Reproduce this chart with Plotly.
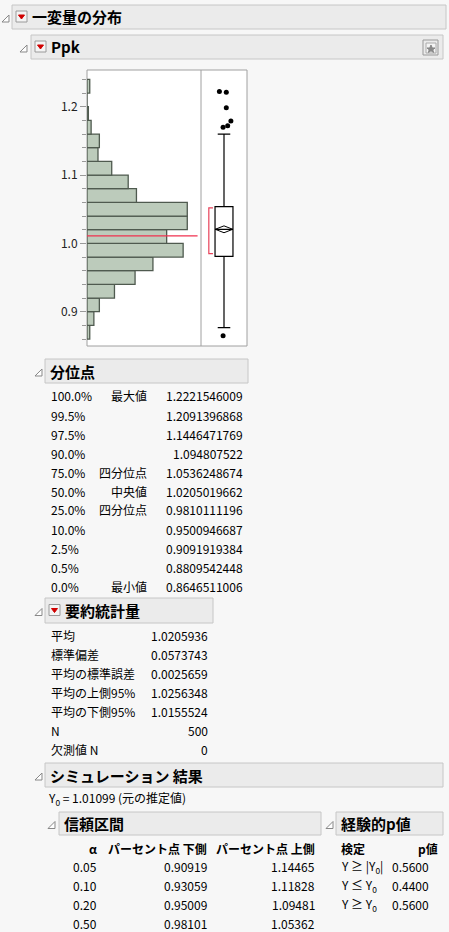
import plotly.graph_objects as go

W, H = 449, 932
FONT = "Noto Sans CJK JP"

# ---------------- data ----------------
bin_lo = [0.86, 0.88, 0.90, 0.92, 0.94, 0.96, 0.98, 1.00, 1.02, 1.04, 1.06, 1.08, 1.10, 1.12, 1.14, 1.16, 1.18, 1.20, 1.22]
counts = [2, 5, 9, 20, 35, 48, 70, 58, 73, 73, 36, 30, 18, 8, 9, 3, 1, 0, 2]
bin_w = 0.02
outliers = [1.2222, 1.2210, 1.1985, 1.1790, 1.1720, 1.1700, 0.8647]
outlier_x = [0.40, 0.55, 0.55, 0.65, 0.58, 0.48, 0.48]
q1, med, q3 = 0.9810111196, 1.0205019662, 1.0536248674
lo_fence, hi_fence = 0.8766, 1.1600
mean, mean_lo, mean_hi = 1.0205936, 1.0155524, 1.0256348
short_half = [0.985, 1.052]
y0 = 1.01099
yticks = [0.9, 1.0, 1.1, 1.2]

q_pct = ["100.0%", "99.5%", "97.5%", "90.0%", "75.0%", "50.0%", "25.0%", "10.0%", "2.5%", "0.5%", "0.0%"]
q_lab = ["最大値", "", "", "", "四分位点", "中央値", "四分位点", "", "", "", "最小値"]
q_val = ["1.2221546009", "1.2091396868", "1.1446471769", "1.094807522", "1.0536248674", "1.0205019662",
         "0.9810111196", "0.9500946687", "0.9091919384", "0.8809542448", "0.8646511006"]

s_lab = ["平均", "標準偏差", "平均の標準誤差", "平均の上側95%", "平均の下側95%", "N", "欠測値 N"]
s_val = ["1.0205936", "0.0573743", "0.0025659", "1.0256348", "1.0155524", "500", "0"]

ci_alpha = ["0.05", "0.10", "0.20", "0.50"]
ci_lo = ["0.90919", "0.93059", "0.95009", "0.98101"]
ci_hi = ["1.14465", "1.11828", "1.09481", "1.05362"]

p_test = ["Y ≥ |Y<sub>0</sub>|", "Y ≤ Y<sub>0</sub>", "Y ≥ Y<sub>0</sub>"]
p_val = ["0.5600", "0.4400", "0.5600"]

# ---------------- helpers ----------------
def X(px): return px / W
def Y(py): return 1 - py / H

shapes, ann = [], []

def text(px, py, s, size=12, anchor="left", bold=False, color="#000"):
    if bold: s = "<b>" + s + "</b>"
    ann.append(dict(x=X(px), y=Y(py), xref="paper", yref="paper", text=s, showarrow=False,
                    xanchor=anchor, yanchor="middle", font=dict(family=FONT, size=size, color=color)))

def rect(x0, y0_, x1, y1, fill="#ebebeb", line="#c6c6c6", w=1):
    shapes.append(dict(type="rect", xref="paper", yref="paper", x0=X(x0), x1=X(x1), y0=Y(y1), y1=Y(y0_),
                       fillcolor=fill, line=dict(color=line, width=w)))

def path(pts, fill, line):
    d = "M " + " L ".join(f"{X(a):.5f},{Y(b):.5f}" for a, b in pts) + " Z"
    shapes.append(dict(type="path", xref="paper", yref="paper", path=d, fillcolor=fill,
                       line=dict(color=line, width=1)))

def header(x0, x1, y0_, y1, label, tri_x, button=False):
    rect(x0, y0_, x1, y1)
    cy = (y0_ + y1) / 2
    path([(tri_x - 4, cy + 5), (tri_x + 3, cy + 5), (tri_x + 3, cy - 2)], "white", "#888")
    tx = x0 + 3
    if button:
        rect(x0 + 4, cy - 6, x0 + 15, cy + 5, fill="#f4f4f4", line="#9a9a9a")
        path([(x0 + 6.5, cy - 2), (x0 + 12.5, cy - 2), (x0 + 9.5, cy + 2)], "#d00000", "#d00000")
        tx = x0 + 18
    text(tx, cy, label, size=15, bold=True)

# ---------------- headers ----------------
header(12, 446, 5, 29, "一変量の分布", 6, button=True)
header(31, 443, 35, 59, "Ppk", 24, button=True)
rect(423, 40, 438, 55, fill="#ebebeb", line="#999")
rect(426, 43, 436, 53, fill="#f4f4f4", line="#aaa")
path([(431, 45), (432.3, 48), (435, 48), (432.8, 49.8), (433.6, 52.5), (431, 50.8), (428.4, 52.5),
      (429.2, 49.8), (427, 48), (429.7, 48)], "#888", "#888")

# ---------------- histogram + box ----------------
fig = go.Figure()
y_lo, y_hi = 0.8498, 1.2537
hx0, hx1, bx1, pt, pb = 87, 201, 247, 70, 346
fig.add_trace(go.Bar(x=counts, y=[b + bin_w / 2 for b in bin_lo], width=bin_w, orientation="h",
                     marker=dict(color="#bccbbb", line=dict(color="#4f5a4f", width=1.3)),
                     xaxis="x", yaxis="y", showlegend=False, hoverinfo="skip"))
fig.add_trace(go.Box(x=[0.5], q1=[q1], median=[med], q3=[q3], lowerfence=[lo_fence], upperfence=[hi_fence],
                     width=0.39, whiskerwidth=0.7, fillcolor="white", line=dict(color="black", width=1.2),
                     boxpoints=False, xaxis="x2", yaxis="y", showlegend=False, hoverinfo="skip"))
fig.add_trace(go.Scatter(x=outlier_x, y=outliers, mode="markers", marker=dict(color="black", size=5),
                         xaxis="x2", yaxis="y", showlegend=False, hoverinfo="skip"))
fig.add_trace(go.Scatter(x=[0.31, 0.5, 0.69, 0.5, 0.31], y=[mean, mean_hi, mean, mean_lo, mean], mode="lines",
                         line=dict(color="black", width=1), xaxis="x2", yaxis="y", showlegend=False, hoverinfo="skip"))
fig.add_trace(go.Scatter(x=[0.26, 0.17, 0.17, 0.26], y=[short_half[0], short_half[0], short_half[1], short_half[1]],
                         mode="lines", line=dict(color="#e8425a", width=1.2), xaxis="x2", yaxis="y",
                         showlegend=False, hoverinfo="skip"))
fig.add_trace(go.Scatter(x=[0, 80.5], y=[y0, y0], mode="lines", line=dict(color="#f0314f", width=1.2),
                         xaxis="x", yaxis="y", showlegend=False, hoverinfo="skip"))

shapes.append(dict(type="rect", xref="paper", yref="paper", x0=X(hx0), x1=X(bx1), y0=Y(pb), y1=Y(pt),
                   fillcolor="white", line=dict(color="#a0a0a0", width=1), layer="below"))
shapes.append(dict(type="line", xref="paper", yref="paper", x0=X(hx1), x1=X(hx1), y0=Y(pb), y1=Y(pt),
                   line=dict(color="#a0a0a0", width=1)))

minor = [round(0.86 + 0.02 * i, 2) for i in range(20)]

fig.update_layout(
    xaxis=dict(domain=[X(hx0), X(hx1)], range=[0, 83], visible=False, fixedrange=True),
    xaxis2=dict(domain=[X(hx1), X(bx1)], range=[0, 1], visible=False, fixedrange=True),
    yaxis=dict(domain=[Y(pb), Y(pt)], range=[y_lo, y_hi], tickvals=yticks, ticktext=[f"{v:.1f}" for v in yticks],
               ticks="outside", ticklen=6, tickcolor="#999", showgrid=False, zeroline=False, showline=False,
               tickfont=dict(family=FONT, size=12, color="#222"), fixedrange=True,
               minor=dict(tickvals=minor, ticks="outside", ticklen=4, tickcolor="#999")),
)

# ---------------- quantiles ----------------
header(45, 248, 359, 383, "分位点", 39)
for i in range(len(q_pct)):
    py = 396 + 19 * i
    text(49, py, q_pct[i])
    if q_lab[i]:
        text(149, py, q_lab[i], anchor="right")
    text(245, py, q_val[i], anchor="right")

# ---------------- summary ----------------
header(45, 213, 598, 623, "要約統計量", 39, button=True)
for i in range(len(s_lab)):
    py = 635 + 19 * i
    text(49, py, s_lab[i])
    text(210, py, s_val[i], anchor="right")

# ---------------- simulation ----------------
header(45, 443, 763, 787, "シミュレーション 結果", 39)
text(46, 798, "Y<sub>0</sub> = 1.01099 (元の推定値)")
header(59, 321, 812, 835, "信頼区間", 52)
header(336, 443, 812, 835, "経験的p値", 330)
text(99, 848, "α", anchor="right", bold=True)
text(209, 848, "パーセント点 下側", anchor="right", bold=True)
text(317, 848, "パーセント点 上側", anchor="right", bold=True)
for i in range(len(ci_alpha)):
    py = 866 + 19 * i
    text(99, py, ci_alpha[i], anchor="right")
    text(209, py, ci_lo[i], anchor="right")
    text(317, py, ci_hi[i], anchor="right")
text(339, 848, "検定", bold=True)
text(440, 848, "p値", anchor="right", bold=True)
for i in range(len(p_test)):
    py = 866 + 19 * i
    text(339, py, p_test[i])
    text(431, py, p_val[i], anchor="right")

fig.update_layout(width=W, height=H, margin=dict(l=0, r=0, t=0, b=0), paper_bgcolor="#f7f7f7",
                  plot_bgcolor="rgba(0,0,0,0)", shapes=shapes, annotations=ann, showlegend=False)
fig.write_html("out.html", config=dict(displayModeBar=False),
               post_script="document.body.style.margin='0';")
